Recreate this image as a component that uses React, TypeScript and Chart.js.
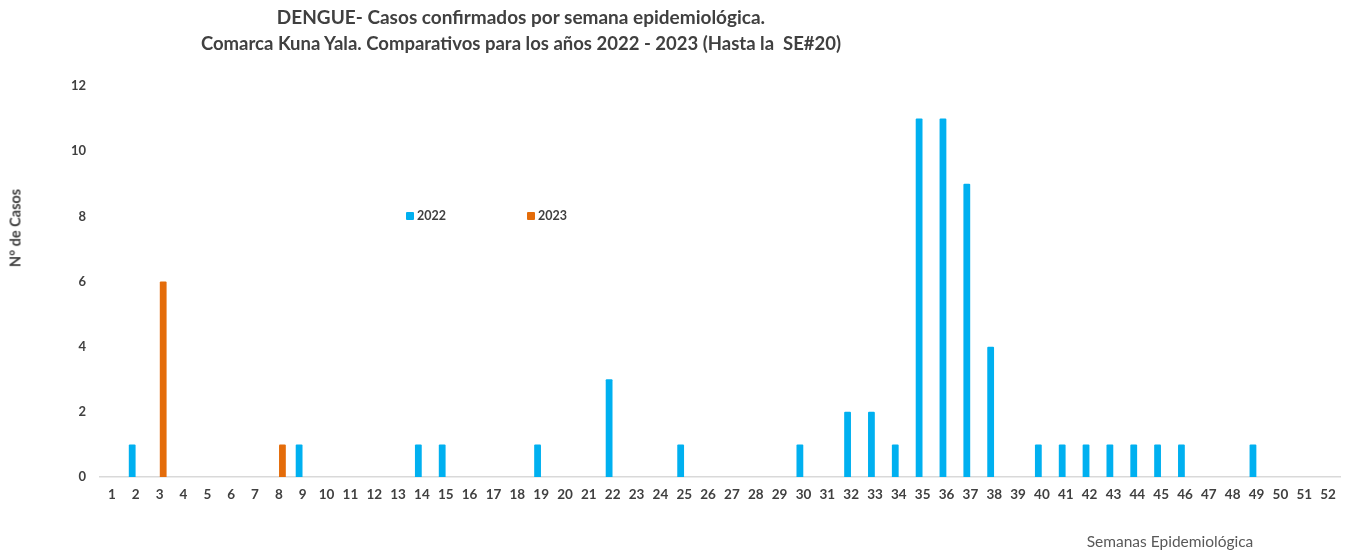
import React, { useEffect, useRef } from "react";
import { Chart, registerables } from "chart.js";

Chart.register(...registerables);

const weeks: string[] = Array.from({ length: 52 }, (_, i) => String(i + 1));
const casos2022: number[] = [
  0, 1, 0, 0, 0, 0, 0, 0, 1, 0,
  0, 0, 0, 1, 1, 0, 0, 0, 1, 0,
  0, 3, 0, 0, 1, 0, 0, 0, 0, 1,
  0, 2, 2, 1, 11, 11, 9, 4, 0, 1,
  1, 1, 1, 1, 1, 1, 0, 0, 1, 0,
  0, 0,
];
const casos2023: number[] = [
  0, 0, 6, 0, 0, 0, 0, 1, 0, 0,
  0, 0, 0, 0, 0, 0, 0, 0, 0, 0,
  0, 0, 0, 0, 0, 0, 0, 0, 0, 0,
  0, 0, 0, 0, 0, 0, 0, 0, 0, 0,
  0, 0, 0, 0, 0, 0, 0, 0, 0, 0,
  0, 0,
];
const yTicks: number[] = [0, 2, 4, 6, 8, 10, 12];
const seriesNames: string[] = ["2022", "2023"];
const seriesColors: string[] = ["#00B0F0", "#E46C0A"];

const FONT = "Lato, 'Open Sans', sans-serif";
const TEXT = "#404040";

export default function App() {
  const ref = useRef<HTMLCanvasElement | null>(null);
  useEffect(() => {
    if (!ref.current) return;
    const chart = new Chart(ref.current, {
      type: "bar",
      data: {
        labels: weeks,
        datasets: [
          {
            label: seriesNames[0],
            data: casos2022.map((v) => (v === 0 ? null : v)),
            backgroundColor: seriesColors[0],
            borderRadius: 1,
            categoryPercentage: 0.6,
            barPercentage: 0.95,
          },
          {
            label: seriesNames[1],
            data: casos2023.map((v) => (v === 0 ? null : v)),
            backgroundColor: seriesColors[1],
            borderRadius: 1,
            categoryPercentage: 0.6,
            barPercentage: 0.95,
          },
        ],
      },
      options: {
        responsive: false,
        animation: false,
        layout: { padding: { top: 86, right: 12, left: 0, bottom: 0 } },
        plugins: {
          legend: { display: false },
          title: { display: false },
          tooltip: { enabled: false },
        },
        scales: {
          x: {
            grid: { display: false, drawTicks: false },
            border: { display: true, color: "#d9d9d9", width: 1.5 },
            ticks: {
              color: TEXT,
              font: { family: FONT, size: 13.5, weight: "bold" },
              padding: 10,
              maxRotation: 0,
              autoSkip: false,
            },
            afterFit: (scale: any) => {
              scale.height = 75;
            },
          },
          y: {
            min: 0,
            max: 12,
            afterBuildTicks: (scale: any) => {
              scale.ticks = yTicks.map((v) => ({ value: v }));
            },
            grid: { display: false, drawTicks: false },
            border: { display: false },
            ticks: {
              color: TEXT,
              font: { family: FONT, size: 13, weight: "bold" },
              padding: 14,
            },
            afterFit: (scale: any) => {
              scale.width = 100;
            },
          },
        },
      },
    });
    return () => chart.destroy();
  }, []);

  return (
    <div
      style={{
        position: "fixed",
        left: 0,
        top: 0,
        width: 1352,
        height: 552,
        background: "#fff",
        fontFamily: FONT,
      }}
    >
      <canvas ref={ref} width={1352} height={552} style={{ display: "block" }} />
      <div
        style={{
          position: "absolute",
          left: 0,
          top: 3,
          width: 1042,
          textAlign: "center",
          fontWeight: "bold",
          fontSize: 18.5,
          lineHeight: "27px",
          color: TEXT,
        }}
      >
        <div style={{ fontSize: 19 }}>DENGUE- Casos confirmados por semana epidemiológica.</div>
        <div>Comarca Kuna Yala. Comparativos para los años 2022 - 2023 (Hasta la&nbsp; SE#20)</div>
      </div>
      <div
        style={{
          position: "absolute",
          left: 15,
          top: 228,
          transform: "translate(-50%, -50%) rotate(-90deg)",
          fontWeight: "bold",
          fontSize: 14.5,
          color: TEXT,
          whiteSpace: "nowrap",
        }}
      >
        N° de Casos
      </div>
      <div
        style={{
          position: "absolute",
          left: 1170,
          top: 541,
          transform: "translate(-50%, -50%)",
          fontSize: 15.5,
          color: "#595959",
          whiteSpace: "nowrap",
        }}
      >
        Semanas Epidemiológica
      </div>
      {seriesNames.map((name, i) => (
        <div
          key={name}
          style={{
            position: "absolute",
            left: i === 0 ? 406 : 527,
            top: 208,
            display: "flex",
            alignItems: "center",
            fontWeight: "bold",
            fontSize: 12.5,
            color: TEXT,
          }}
        >
          <span
            style={{
              display: "inline-block",
              width: 8,
              height: 8,
              background: seriesColors[i],
              borderRadius: 1,
              marginRight: 3,
            }}
          />
          {name}
        </div>
      ))}
    </div>
  );
}
